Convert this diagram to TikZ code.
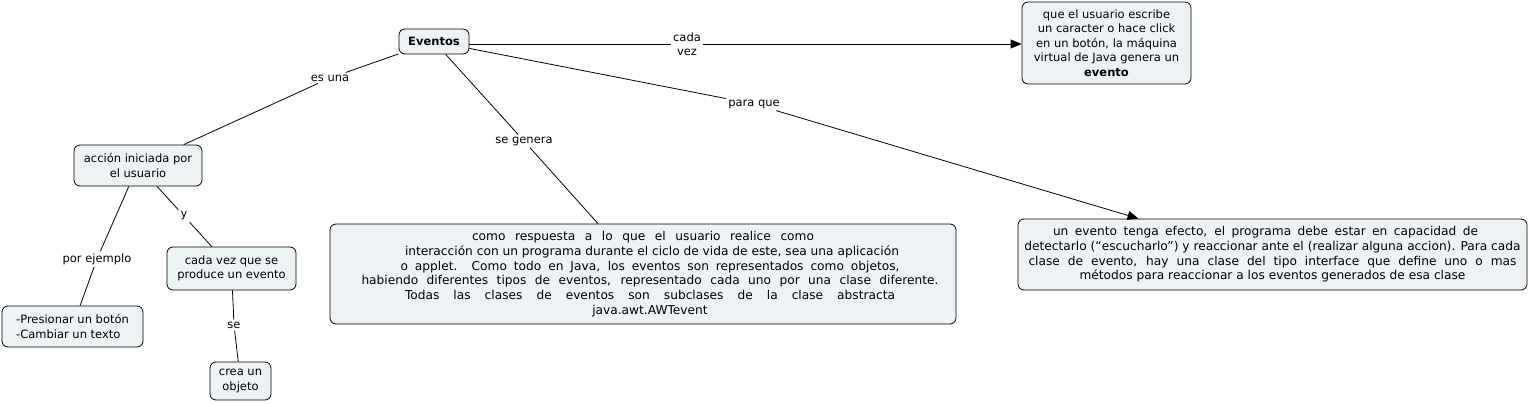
\documentclass[tikz,border=0pt]{standalone}
\usepackage{fontspec}
\setmainfont{DejaVu Sans}
\usetikzlibrary{arrows.meta}
\definecolor{boxfill}{RGB}{237,243,245}
\begin{document}
\begin{tikzpicture}[x=1pt,y=-1pt,
  concept/.style={draw=black, line width=0.8pt, rounded corners=6pt, fill=boxfill, inner sep=0pt, align=center, font=\fontsize{11.5}{14.5}\selectfont},
  bigtext/.style={font=\fontsize{12.2}{14.7}\selectfont},
  lbl/.style={inner sep=2pt, align=center, font=\fontsize{11.5}{14.5}\selectfont},
  link/.style={line width=0.8pt},
  arr/.style={link, -{Triangle[length=11pt,width=9pt]}}]
\useasboundingbox (0,0) rectangle (1529,404);
% concepts
\node[concept, minimum width=70pt, minimum height=25pt, font=\fontsize{11.5}{14.5}\selectfont\bfseries] (ev) at (434,41.5) {Eventos};
\node[concept, minimum width=128pt, minimum height=41pt] (acc) at (138,165.5) {acción iniciada por\\el usuario};
\node[concept, minimum width=141pt, minimum height=41pt, align=left] (pres) at (72.5,326.5) {-Presionar un botón\\-Cambiar un texto};
\node[concept, minimum width=129pt, minimum height=43pt] (cvq) at (231.5,268.5) {cada vez que se\\produce un evento};
\node[concept, minimum width=61pt, minimum height=38pt] (crea) at (240.5,381) {crea un\\objeto};
\node[concept, bigtext, minimum width=626pt, minimum height=100pt] (big) at (643,274) {%
\makebox[342pt][s]{como respuesta a lo que el usuario realice como}\\
\hspace*{18pt}interacción con un programa durante el ciclo de vida de este, sea una aplicación\\
\hspace*{14pt}\makebox[499pt][s]{o applet. Como todo en Java, los eventos son representados como objetos,}\\
\hspace*{14pt}\makebox[577pt][s]{habiendo diferentes tipos de eventos, representado cada uno por una clase diferente.}\\
\hspace*{14pt}\makebox[490pt][s]{Todas las clases de eventos son subclases de la clase abstracta}\\
\hspace*{14pt}java.awt.AWTevent};
\node[concept, minimum width=169pt, minimum height=82pt] (rtop) at (1106.5,43) {que el usuario escribe\\un caracter o hace click\\en un botón, la máquina\\virtual de Java genera un\\\textbf{evento}};
\node[concept, bigtext, minimum width=509pt, minimum height=71pt] (rbot) at (1272.5,254.5) {%
\hspace*{-14pt}\makebox[425pt][s]{un evento tenga efecto, el programa debe estar en capacidad de}\\
detectarlo (“escucharlo”) y reaccionar ante el (realizar alguna accion). Para cada\\
\makebox[488pt][s]{clase de evento, hay una clase del tipo interface que define uno o mas}\\
métodos para reaccionar a los eventos generados de esa clase};
% linking phrases
\node[lbl] (esuna) at (330,78) {es una};
\node[lbl] (porej) at (97,259) {por ejemplo};
\node[lbl] (y) at (184,216) {y};
\node[lbl] (se) at (234,325) {se};
\node[lbl] (segen) at (524,141) {se genera};
\node[lbl] (cadavez) at (687,44) {cada\\vez};
\node[lbl] (paraque) at (754,104) {para que};
% connectors
\draw[link] (ev) -- (esuna);
\draw[link] (esuna) -- (acc);
\draw[link] (acc) -- (porej);
\draw[link] (porej) -- (pres);
\draw[link] (acc) -- (y);
\draw[link] (y) -- (cvq);
\draw[link] (cvq) -- (se);
\draw[link] (se) -- (crea);
\draw[link] (ev) -- (segen);
\draw[link] (segen) -- (big);
\draw[link] (ev.east |- cadavez) -- (cadavez);
\draw[arr] (cadavez) -- (rtop.west |- cadavez);
\draw[link] (ev) -- (paraque);
\draw[arr] (paraque) -- (rbot.165);
\end{tikzpicture}
\end{document}
